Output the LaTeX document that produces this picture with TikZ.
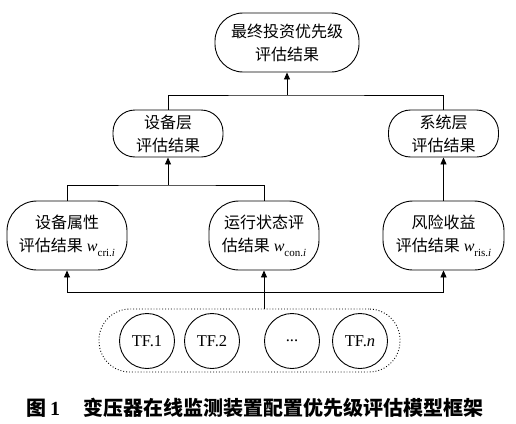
\documentclass[tikz,border=0pt]{standalone}
\usepackage{fontspec}
\setmainfont{Liberation Serif}
\newfontfamily\cjk{Noto Sans CJK SC}
\usetikzlibrary{arrows.meta}
\tikzset{
  box/.style={draw, line width=0.9pt, align=center, inner sep=0pt,
    font=\fontsize{16}{23}\selectfont},
  circ/.style={draw, circle, line width=0.9pt, minimum size=55pt, inner sep=0pt,
    font=\fontsize{16.5}{16.5}\selectfont},
  ln/.style={line width=0.9pt},
  arr/.style={line width=0.9pt, -{Triangle[length=7pt,width=6pt]}},
}
\newcommand{\wsub}[1]{\textit{w}\raisebox{-0.3em}{\fontsize{11}{11}\selectfont #1}}
\begin{document}
\begin{tikzpicture}[x=1pt,y=-1pt]
\useasboundingbox (0,0) rectangle (516,423);
\node[box, rounded corners=28pt, minimum width=144pt, minimum height=59pt] (top) at (287,42.5)
  {{\cjk 最终投资优先级}\\{\cjk 评估结果}};
\node[box, rounded corners=22pt, minimum width=110pt, minimum height=47pt] (dev) at (168,133.5)
  {{\cjk 设备层}\\{\cjk 评估结果}};
\node[box, rounded corners=22pt, minimum width=110pt, minimum height=47pt] (sys) at (443.5,133.5)
  {{\cjk 系统层}\\{\cjk 评估结果}};
\node[box, rounded corners=30pt, minimum width=120pt, minimum height=69pt] (cri) at (67,235.5)
  {{\cjk 设备属性}\\{\cjk 评估结果} \wsub{cri.\textit{i}}};
\node[box, rounded corners=30pt, minimum width=110pt, minimum height=69pt] (con) at (264,235.5)
  {{\cjk 运行状态评}\\{\cjk 估结果} \wsub{con.\textit{i}}};
\node[box, rounded corners=30pt, minimum width=121pt, minimum height=69pt] (ris) at (443.5,235.5)
  {{\cjk 风险收益}\\{\cjk 评估结果} \wsub{ris.\textit{i}}};
\node[draw, dotted, line width=0.9pt, rounded corners=31pt, minimum width=301pt, minimum height=63pt] (grp) at (249.5,340.5) {};
\node[circ] (tf1) at (147,341) {TF.1};
\node[circ] (tf2) at (212,341) {TF.2};
\node[circ] (tfd) at (292,341) {...};
\node[circ] (tfn) at (360,341) {TF.\textit{n}};
\coordinate (j1) at (287,95);
\coordinate (j2) at (168,185);
\coordinate (j3) at (264,292);
\draw[ln] (dev.north) |- (j1) -| (sys.north);
\draw[arr] (j1) -- (top.south);
\draw[ln] (cri.north) |- (j2) -| (con.north);
\draw[arr] (j2) -- (dev.south);
\draw[arr] (ris.north) -- (sys.south);
\draw[ln] (j3 |- grp.north) -- (j3);
\draw[arr] (j3) -| (cri.south);
\draw[arr] (j3) -| (ris.south);
\draw[arr] (j3) -- (con.south);
\node[font=\fontsize{20}{20}\selectfont] (cap) at (255,408)
  {{\cjk\bfseries 图}\,\textbf{1}\hspace{23pt}{\cjk\bfseries 变压器在线监测装置配置优先级评估模型框架}};
\end{tikzpicture}
\end{document}
